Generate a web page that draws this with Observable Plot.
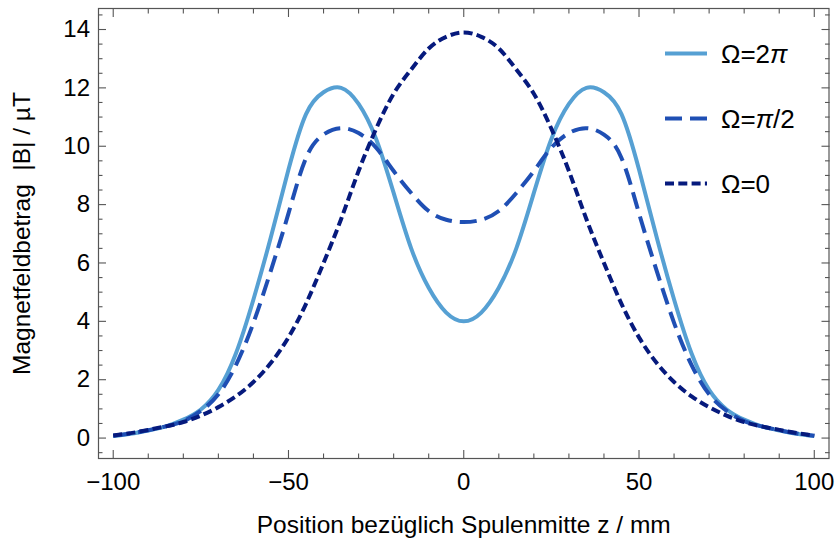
<!DOCTYPE html>
<html><head><meta charset="utf-8">
<script src="https://cdn.jsdelivr.net/npm/d3@7"></script>
<script src="https://cdn.jsdelivr.net/npm/@observablehq/plot@0.6"></script>
<style>
body{margin:0;background:#fff;}
#wrap{position:relative;width:837px;height:545px;font-family:"Liberation Sans",Arial,sans-serif;}
#legend{position:absolute;left:0;top:0;pointer-events:none;}
</style></head><body><div id="wrap"></div>
<script>
// Position z / mm
const z = [-100,-95,-90,-85,-80,-75,-70,-65,-60,-55,-50,-45,-40,-35,-30,-25,-20,-15,-10,-5,0,
           5,10,15,20,25,30,35,40,45,50,55,60,65,70,75,80,85,90,95,100];
// |B| / µT for Ω=2π
const bOmega2pi = [0.07,0.15,0.26,0.40,0.63,0.98,1.65,2.9,4.75,6.9,9.2,11.1,11.85,12.0,11.45,10.25,8.4,6.5,5.15,4.3,4.0,
                   4.3,5.15,6.5,8.4,10.25,11.45,12.0,11.85,11.1,9.2,6.9,4.75,2.9,1.65,0.98,0.63,0.40,0.26,0.15,0.07];
// Ω=π/2
const bOmegaHalfPi = [0.08,0.16,0.27,0.40,0.58,0.93,1.5,2.5,3.95,5.75,7.7,9.6,10.4,10.62,10.45,9.95,9.15,8.4,7.78,7.48,7.4,
                      7.48,7.78,8.4,9.15,9.95,10.45,10.62,10.4,9.6,7.7,5.75,3.95,2.5,1.5,0.93,0.58,0.40,0.27,0.16,0.08];
// Ω=0
const bOmega0 = [0.09,0.17,0.28,0.40,0.55,0.77,1.06,1.43,1.92,2.58,3.45,4.6,6.0,7.5,9.15,10.6,11.8,12.63,13.35,13.75,13.9,
                 13.75,13.35,12.63,11.8,10.6,9.15,7.5,6.0,4.6,3.45,2.58,1.92,1.43,1.06,0.77,0.55,0.40,0.28,0.17,0.09];

const seriesNames = [["Ω=2", "π", ""], ["Ω=", "π", "/2"], ["Ω=0", "", ""]];
const seriesValues = [bOmega2pi, bOmegaHalfPi, bOmega0];
const seriesColors = ["#56a0d3", "#1f4fb4", "#061a7d"];
const seriesDash = [null, "17,8", "9,4.3"];

const xMajor = [-100,-50,0,50,100];
const xMinor = d3.range(-100, 101, 10).filter(v => v % 50 !== 0);
const yMajor = [0,2,4,6,8,10,12,14];
const yMinor = d3.range(-0.5, 14.51, 0.5).filter(v => Math.abs(v % 2) > 1e-9);

const xLabel = "Position bezüglich Spulenmitte z / mm";
const yLabel = "Magnetfeldbetrag  |B| / µT";

const frameColor = "#555";
const tick = (axis, anchor, values, size) => axis({anchor, ticks: values, tickSize: -size,
  tickFormat: () => "", label: null, stroke: frameColor, strokeWidth: 1.1});

const lines = seriesValues.map((vals, i) => Plot.line(
  z.map((zz, j) => ({z: zz, b: vals[j]})),
  {x: "z", y: "b", stroke: seriesColors[i], strokeWidth: 4, strokeDasharray: seriesDash[i],
   curve: "natural", strokeLinecap: "butt"}));

const chart = Plot.plot({
  width: 837, height: 545,
  marginTop: 8, marginBottom: 87, marginLeft: 98, marginRight: 8.5,
  style: {fontFamily: "'Liberation Sans', Arial, sans-serif", color: "#000", background: "#fff"},
  x: {domain: [-104.2, 104.2], axis: null},
  y: {domain: [-0.7, 14.72], axis: null},
  marks: [
    ...lines,
    Plot.frame({stroke: frameColor, strokeWidth: 1.2}),
    tick(Plot.axisX, "bottom", xMajor, 8), tick(Plot.axisX, "bottom", xMinor, 4.5),
    tick(Plot.axisX, "top", xMajor, 8), tick(Plot.axisX, "top", xMinor, 4.5),
    tick(Plot.axisY, "left", yMajor, 8), tick(Plot.axisY, "left", yMinor, 4.5),
    tick(Plot.axisY, "right", yMajor, 8), tick(Plot.axisY, "right", yMinor, 4.5),
    Plot.axisX({anchor: "bottom", ticks: xMajor, tickSize: 0, tickPadding: 14, fontSize: 24, label: null, fill: "#000"}),
    Plot.axisY({anchor: "left", ticks: yMajor, tickSize: 0, tickPadding: 8.5, fontSize: 24, label: null, fill: "#000"}),
    Plot.text([xLabel], {text: d => d, frameAnchor: "bottom", textAnchor: "middle", lineAnchor: "middle", dy: 67, fontSize: 24.5, fill: "#000"}),
    Plot.text([yLabel], {text: d => d, frameAnchor: "left", textAnchor: "middle", lineAnchor: "middle", dx: -76, rotate: -90, fontSize: 24.5, fill: "#000"})
  ]
});

const wrap = document.getElementById("wrap");
wrap.appendChild(chart);

// legend overlay
const ns = "http://www.w3.org/2000/svg";
const leg = document.createElementNS(ns, "svg");
leg.setAttribute("id", "legend");
leg.setAttribute("width", 837); leg.setAttribute("height", 545);
seriesNames.forEach((parts, i) => {
  const cy = 53.5 + i * 65;
  const ln = document.createElementNS(ns, "line");
  ln.setAttribute("x1", 665); ln.setAttribute("x2", 707);
  ln.setAttribute("y1", cy); ln.setAttribute("y2", cy);
  ln.setAttribute("stroke", seriesColors[i]); ln.setAttribute("stroke-width", 4);
  if (seriesDash[i]) ln.setAttribute("stroke-dasharray", seriesDash[i]);
  leg.appendChild(ln);
  const tx = document.createElementNS(ns, "text");
  tx.setAttribute("x", 721); tx.setAttribute("y", cy);
  tx.setAttribute("dominant-baseline", "central");
  tx.setAttribute("font-size", 26);
  tx.setAttribute("font-family", "'Liberation Sans', Arial, sans-serif");
  parts.forEach((p, k) => {
    if (!p) return;
    const ts = document.createElementNS(ns, "tspan");
    if (k === 1) ts.setAttribute("font-style", "italic");
    ts.textContent = p;
    tx.appendChild(ts);
  });
  leg.appendChild(tx);
});
wrap.appendChild(leg);
</script></body></html>
